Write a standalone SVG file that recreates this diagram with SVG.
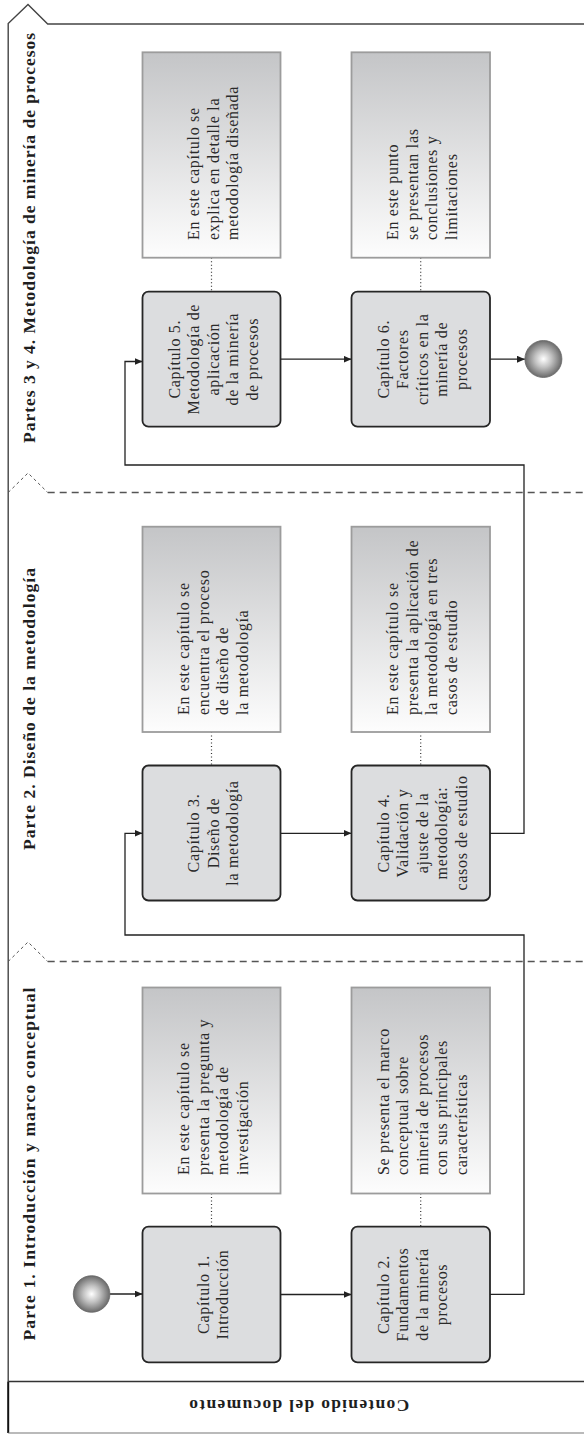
<svg xmlns="http://www.w3.org/2000/svg" width="584" height="1434" viewBox="0 0 584 1434">
<defs>
<linearGradient id="descGrad" x1="0" y1="0" x2="0" y2="1">
<stop offset="0" stop-color="#c4c5c7"/>
<stop offset="1" stop-color="#fdfdfd"/>
</linearGradient>
<radialGradient id="ballGrad" cx="0.5" cy="0.5" r="0.5">
<stop offset="0" stop-color="#ffffff"/>
<stop offset="0.45" stop-color="#c2c2c2"/>
<stop offset="1" stop-color="#6a6a6a"/>
</radialGradient>
<marker id="arrow" viewBox="0 0 8 7" refX="8" refY="3.5" markerWidth="8" markerHeight="7" markerUnits="userSpaceOnUse" orient="auto">
<path d="M0,0 L8,3.5 L0,7 z" fill="#222"/>
</marker>
</defs>
<style>
.desc{fill:url(#descGrad);stroke:#9c9c9c;stroke-width:1.8}
.cap{fill:#dcdddf;stroke:#262626;stroke-width:1.8}
.t{font-family:"Liberation Serif",serif;font-size:16px;fill:#2a2a2a;letter-spacing:0.7px}
.tc{text-anchor:middle}
.title{font-family:"Liberation Serif",serif;font-size:17.5px;font-weight:bold;fill:#1e1e1e}
.flow{fill:none;stroke:#222;stroke-width:1.3}
.dot{fill:none;stroke:#333;stroke-width:1.2;stroke-dasharray:1 2.5}
.frame{fill:none;stroke:#444;stroke-width:1.4}
.lane{fill:none;stroke:#555;stroke-width:1.3;stroke-dasharray:7 5}
.caret{fill:none;stroke:#555;stroke-width:1;stroke-dasharray:3 3}
.ball{fill:url(#ballGrad);stroke:#666;stroke-width:0.8}
</style>

<g id="frame">
<path class="frame" d="M8.2,1381.5 V23.5 L28,4.5 L47.7,24 H584"/>
<path d="M8.2,1381.5 V1433" fill="none" stroke="#111" stroke-width="2"/>
<path d="M8.2,1381.5 H584" fill="none" stroke="#333" stroke-width="1.6"/>
<path d="M8.2,1433 H584" fill="none" stroke="#777" stroke-width="1.2"/>
<path class="caret" d="M8.2,492.5 L28,473 L47.7,492.5"/>
<path class="lane" d="M47.7,492.5 H584"/>
<path class="caret" d="M8.2,961.5 L28,942 L47.7,961.5"/>
<path class="lane" d="M47.7,961.5 H584"/>
<text class="title" transform="rotate(-90)" x="-443" y="35" textLength="410" lengthAdjust="spacing">Partes 3 y 4. Metodología de minería de procesos</text>
<text class="title" transform="rotate(-90)" x="-850" y="35" textLength="282" lengthAdjust="spacing">Parte 2. Diseño de la metodología</text>
<text class="title" transform="rotate(-90)" x="-1340.5" y="35" textLength="353" lengthAdjust="spacing">Parte 1. Introducción y marco conceptual</text>
<text class="title" transform="translate(299.3,1405.3) rotate(180)" x="0" y="5.3" text-anchor="middle" font-size="16" textLength="220" lengthAdjust="spacing">Contenido del documento</text>
</g>

<g id="connectors">
<path class="dot" d="M211.5,257.7 V291.7"/>
<path class="dot" d="M420.7,257.7 V291.7"/>
<path class="dot" d="M211.5,732 V765.5"/>
<path class="dot" d="M420.7,732 V765.5"/>
<path class="dot" d="M211.5,1193.5 V1226.7"/>
<path class="dot" d="M420.7,1193.5 V1226.7"/>
<path class="flow" marker-end="url(#arrow)" d="M109.9,1294 H142.5"/>
<path class="flow" marker-end="url(#arrow)" d="M280.5,1294.5 H351.5"/>
<path class="flow" marker-end="url(#arrow)" d="M490,1294.3 H524 V935 H125 V833.3 H142.5"/>
<path class="flow" marker-end="url(#arrow)" d="M280.5,833.3 H351.5"/>
<path class="flow" marker-end="url(#arrow)" d="M490,833.3 H524 V465 H125 V361.5 H142.5"/>
<path class="flow" marker-end="url(#arrow)" d="M280.5,359.2 H351.5"/>
<path class="flow" marker-end="url(#arrow)" d="M490,359.2 H524.9"/>
</g>

<g id="end">
<circle class="ball" cx="543.4" cy="359" r="18.5"/>
</g>
<g id="start">
<circle class="ball" cx="91.6" cy="1294" r="18.3"/>
</g>

<g id="desc5">
<rect class="desc" x="142.5" y="52.3" width="138" height="205.4"/>
<g transform="rotate(-90)">
<text class="t" x="-240" y="199">En este capítulo se</text>
<text class="t" x="-240" y="218.5">explica en detalle la</text>
<text class="t" x="-240" y="238">metodología diseñada</text>
</g>
</g>
<g id="desc6">
<rect class="desc" x="351.5" y="52.3" width="138.5" height="205.4"/>
<g transform="rotate(-90)">
<text class="t" x="-240" y="398.4">En este punto</text>
<text class="t" x="-240" y="417.9">se presentan las</text>
<text class="t" x="-240" y="437.4">conclusiones y</text>
<text class="t" x="-240" y="456.9">limitaciones</text>
</g>
</g>
<g id="cap5">
<rect class="cap" x="142.5" y="291.7" width="138" height="135" rx="6"/>
<g transform="rotate(-90)">
<text class="t tc" x="-359.2" y="179.5">Capítulo 5.</text>
<text class="t tc" x="-359.2" y="199">Metodología de</text>
<text class="t tc" x="-359.2" y="218.5">aplicación</text>
<text class="t tc" x="-359.2" y="238">de la minería</text>
<text class="t tc" x="-359.2" y="257.5">de procesos</text>
</g>
</g>
<g id="cap6">
<rect class="cap" x="351.5" y="291.7" width="138.5" height="135" rx="6"/>
<g transform="rotate(-90)">
<text class="t tc" x="-359.2" y="388.6">Capítulo 6.</text>
<text class="t tc" x="-359.2" y="408.1">Factores</text>
<text class="t tc" x="-359.2" y="427.6">críticos en la</text>
<text class="t tc" x="-359.2" y="447.1">minería de</text>
<text class="t tc" x="-359.2" y="466.6">procesos</text>
</g>
</g>

<g id="desc3">
<rect class="desc" x="142.5" y="526.7" width="138" height="205.3"/>
<g transform="rotate(-90)">
<text class="t" x="-715" y="189.25">En este capítulo se</text>
<text class="t" x="-715" y="208.75">encuentra el proceso</text>
<text class="t" x="-715" y="228.25">de diseño de</text>
<text class="t" x="-715" y="247.75">la metodología</text>
</g>
</g>
<g id="desc4">
<rect class="desc" x="351.5" y="526.7" width="138.5" height="205.3"/>
<g transform="rotate(-90)">
<text class="t" x="-715" y="398.4">En este capítulo se</text>
<text class="t" x="-715" y="417.9">presenta la aplicación de</text>
<text class="t" x="-715" y="437.4">la metodología en tres</text>
<text class="t" x="-715" y="456.9">casos de estudio</text>
</g>
</g>
<g id="cap3">
<rect class="cap" x="142.5" y="765.5" width="138" height="135" rx="6"/>
<g transform="rotate(-90)">
<text class="t tc" x="-833" y="199">Capítulo 3.</text>
<text class="t tc" x="-833" y="218.5">Diseño de</text>
<text class="t tc" x="-833" y="238">la metodología</text>
</g>
</g>
<g id="cap4">
<rect class="cap" x="351.5" y="765.5" width="138.5" height="135" rx="6"/>
<g transform="rotate(-90)">
<text class="t tc" x="-833" y="388.6">Capítulo 4.</text>
<text class="t tc" x="-833" y="408.1">Validación y</text>
<text class="t tc" x="-833" y="427.6">ajuste de la</text>
<text class="t tc" x="-833" y="447.1">metodología:</text>
<text class="t tc" x="-833" y="466.6">casos de estudio</text>
</g>
</g>

<g id="desc1">
<rect class="desc" x="142.5" y="987.5" width="138" height="206"/>
<g transform="rotate(-90)">
<text class="t" x="-1175" y="189.25">En este capítulo se</text>
<text class="t" x="-1175" y="208.75">presenta la pregunta y</text>
<text class="t" x="-1175" y="228.25">metodología de</text>
<text class="t" x="-1175" y="247.75">investigación</text>
</g>
</g>
<g id="desc2">
<rect class="desc" x="351.5" y="987.5" width="138.5" height="206"/>
<g transform="rotate(-90)">
<text class="t" x="-1175" y="388.6">Se presenta el marco</text>
<text class="t" x="-1175" y="408.1">conceptual sobre</text>
<text class="t" x="-1175" y="427.6">minería de procesos</text>
<text class="t" x="-1175" y="447.1">con sus principales</text>
<text class="t" x="-1175" y="466.6">características</text>
</g>
</g>
<g id="cap1">
<rect class="cap" x="142.5" y="1226.7" width="138" height="135.6" rx="6"/>
<g transform="rotate(-90)">
<text class="t tc" x="-1294.5" y="208.75">Capítulo 1.</text>
<text class="t tc" x="-1294.5" y="228.25">Introducción</text>
</g>
</g>
<g id="cap2">
<rect class="cap" x="351.5" y="1226.7" width="138.5" height="135.6" rx="6"/>
<g transform="rotate(-90)">
<text class="t tc" x="-1294.5" y="388.6">Capítulo 2.</text>
<text class="t tc" x="-1294.5" y="408.1">Fundamentos</text>
<text class="t tc" x="-1294.5" y="427.6">de la minería</text>
<text class="t tc" x="-1294.5" y="447.1">procesos</text>
</g>
</g>
</svg>
